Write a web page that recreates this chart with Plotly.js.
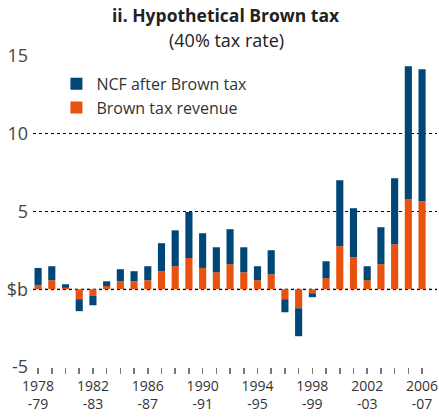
<!DOCTYPE html>
<html><head><meta charset="utf-8">
<script src="https://cdn.plot.ly/plotly-3.0.1.min.js"></script>
<style>body{margin:0;background:#fff}#c{width:439px;height:417px}</style>
</head><body><div id="c"></div>
<script>
const years = [1978,1979,1980,1981,1982,1983,1984,1985,1986,1987,1988,1989,1990,1991,1992,1993,1994,1995,1996,1997,1998,1999,2000,2001,2002,2003,2004,2005,2006];
const taxRevenue = [0.28,0.58,0.09,-0.64,-0.43,0.21,0.51,0.51,0.58,1.16,1.48,2.01,1.37,1.09,1.61,1.09,0.58,0.96,-0.64,-1.22,-0.26,0.71,2.77,2.06,0.58,1.61,2.89,5.79,5.66];
const ncfAfterTax = [1.09,0.90,0.23,-0.77,-0.60,0.30,0.78,0.65,0.90,1.80,2.31,2.96,2.23,1.61,2.25,1.61,0.90,1.55,-0.84,-1.80,-0.25,1.09,4.24,3.15,0.90,2.38,4.25,8.55,8.49];
const tickLabelYears = [1978,1982,1986,1990,1994,1998,2002,2006];
const yTickVals = [-5,0,5,10,15];
const yTickText = ['-5','$b','5','10','15'];
const titleText = 'ii. Hypothetical Brown tax';
const subtitleText = '(40% tax rate)';

const xText = years.map(y => tickLabelYears.includes(y) ? y + '<br>-' + String(y+1).slice(2) : '');
const font = 'Open Sans, Noto Sans, sans-serif';

const data = [
  {type:'bar', name:'Brown tax revenue', x:years, y:taxRevenue, marker:{color:'#E8510E'}, width:0.52},
  {type:'bar', name:'NCF after Brown tax', x:years, y:ncfAfterTax, marker:{color:'#004676'}, width:0.52}
];
const layout = {
  width:439, height:417,
  margin:{l:33, r:2, t:56, b:50},
  paper_bgcolor:'#fff', plot_bgcolor:'#fff',
  barmode:'relative',
  font:{family:font, color:'#333'},
  annotations:[
    {text:'<b>'+titleText+'</b>', xref:'paper', yref:'paper', x:0.478, y:1.132, xanchor:'center', yanchor:'middle', showarrow:false, font:{family:font, size:17.5, color:'#222'}},
    {text:subtitleText, xref:'paper', yref:'paper', x:0.478, y:1.05, xanchor:'center', yanchor:'middle', showarrow:false, font:{family:font, size:18, color:'#222'}}
  ],
  xaxis:{range:[1977.63,2007.09], tickvals:years, ticktext:xText, ticks:'outside', ticklen:6, tickcolor:'#777', tickwidth:1.5,
         showgrid:false, zeroline:false, showline:false, tickfont:{size:14, color:'#333'}},
  yaxis:{range:[-5,15], tickvals:yTickVals, ticktext:yTickText, showgrid:true, gridcolor:'#000', griddash:'dot', gridwidth:1,
         zeroline:false, showline:false, ticks:'', tickfont:{size:18, color:'#444'}, ticklabelstandoff:4},
  shapes:[{type:'line', xref:'paper', x0:0, x1:1, yref:'y', y0:0, y1:0, line:{color:'#999', width:2, dash:'dot'}, layer:'below'}],
  legend:{x:0.058, y:0.965, xanchor:'left', yanchor:'top', traceorder:'reversed', bgcolor:'rgba(0,0,0,0)', font:{size:16, color:'#333'}, tracegroupgap:0},
  showlegend:true
};
Plotly.newPlot('c', data, layout, {displayModeBar:false, staticPlot:true});
</script></body></html>
